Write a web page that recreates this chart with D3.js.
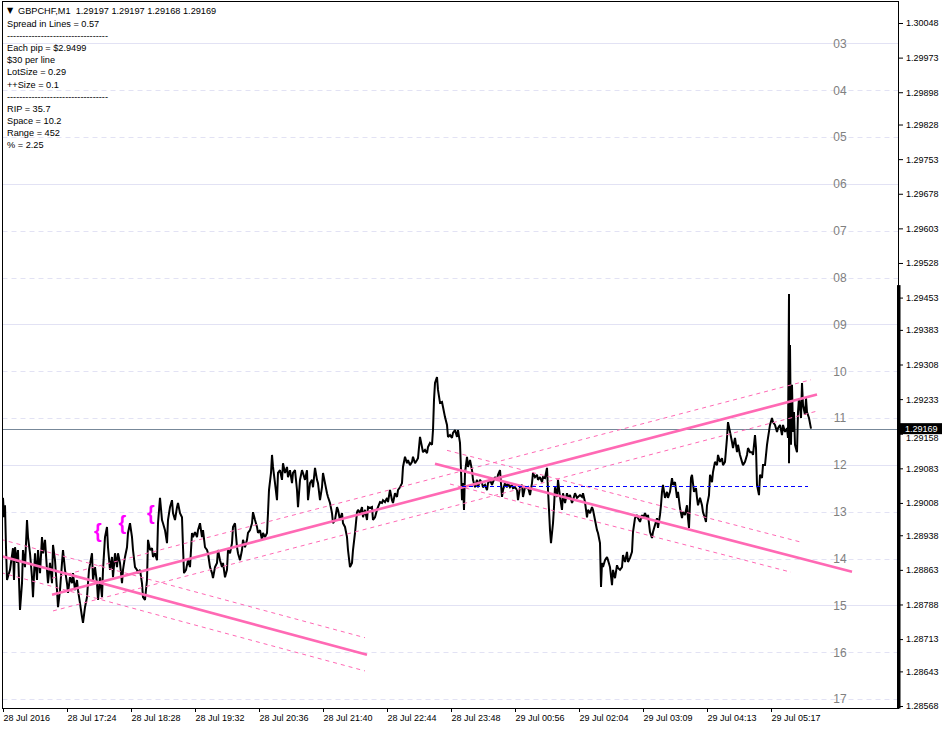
<!DOCTYPE html>
<html><head><meta charset="utf-8">
<script src="https://cdn.jsdelivr.net/npm/d3@7"></script>
<style>
body{margin:0;background:#fff}
svg{display:block}
text{font-family:"Liberation Sans",Arial,sans-serif}
</style>
</head><body>
<svg id="chart" width="942" height="729"></svg>
<script>
// ---------------- DATA ----------------
const symbolHeader = "GBPCHF,M1  1.29197 1.29197 1.29168 1.29169";
const infoLines = [
  "Spread in Lines = 0.57",
  "---------------------------------",
  "Each pip = $2.9499",
  "$30 per line",
  "LotSize = 0.29",
  "++Size = 0.1",
  "---------------------------------",
  "RIP = 35.7",
  "Space = 10.2",
  "Range = 452",
  "% = 2.25"
];
const priceTicks = [1.30048,1.29973,1.29898,1.29828,1.29753,1.29678,1.29603,1.29528,1.29453,1.29383,1.29308,1.29233,1.29158,1.29083,1.29008,1.28938,1.28863,1.28788,1.28713,1.28643,1.28568];
const timeTickBars = [0,64,128,192,256,320,384,448,512,576,640,704,768];
const timeTickLabels = ["28 Jul 2016","28 Jul 17:24","28 Jul 18:28","28 Jul 19:32","28 Jul 20:36","28 Jul 21:40","28 Jul 22:44","28 Jul 23:48","29 Jul 00:56","29 Jul 02:04","29 Jul 03:09","29 Jul 04:13","29 Jul 05:17"];
const levelNames = ["03","04","05","06","07","08","09","10","11","12","13","14","15","16","17"];
const levelPrices = [1.30004,1.29902,1.29801,1.29699,1.29598,1.29496,1.29395,1.29293,1.29192,1.29090,1.28989,1.28887,1.28786,1.28684,1.28583];
const solidLevels = ["03","06","09","12","15"];
const currentPrice = 1.29169;
const scaleMarkTop = 1.29480;
// M1 price trace: [bar index, price]
const pricePath = [
[0,1.29019],[1,1.28977],[2,1.29003],[3,1.28912],[4,1.28841],[7,1.28863],[10,1.28910],[11,1.28841],[12,1.28912],[14,1.28878],[15,1.28906],[17,1.28776],[19,1.28834],[20,1.28906],[22,1.28869],[24,1.28971],[25,1.28934],[27,1.28899],[29,1.28847],[30,1.28804],[32,1.28899],[34,1.28841],[35,1.28906],[37,1.28856],[39,1.28934],[40,1.28899],[42,1.28928],[44,1.28863],[45,1.28834],[47,1.28878],[49,1.28834],[50,1.28917],[52,1.28884],[54,1.28819],[55,1.28782],[57,1.28819],[59,1.28878],[60,1.28906],[62,1.28863],[64,1.28834],[65,1.28813],[67,1.28847],[69,1.28834],[70,1.28856],[72,1.28819],[74,1.28841],[75,1.28819],[77,1.28791],[79,1.28761],[80,1.28748],[82,1.28782],[84,1.28804],[86,1.28863],[89,1.28899],[90,1.28841],[92,1.28869],[94,1.28834],[95,1.28798],[97,1.28847],[99,1.28804],[100,1.28863],[102,1.28934],[104,1.28956],[105,1.28912],[107,1.28863],[109,1.28891],[110,1.28847],[112,1.28899],[114,1.28869],[115,1.28899],[117,1.28878],[119,1.28834],[120,1.28863],[122,1.28891],[124,1.28912],[125,1.28943],[127,1.28964],[129,1.28934],[130,1.28906],[132,1.28869],[134,1.28863],[135,1.28856],[137,1.28863],[139,1.28834],[140,1.28804],[142,1.28798],[144,1.28841],[145,1.28928],[147,1.28906],[149,1.28910],[150,1.28891],[152,1.28899],[154,1.28884],[155,1.28964],[157,1.29019],[159,1.28971],[160,1.28964],[162,1.28949],[164,1.28921],[165,1.28971],[167,1.28999],[169,1.29014],[170,1.28986],[172,1.28971],[174,1.28999],[175,1.29008],[177,1.28986],[179,1.28977],[180,1.28912],[181,1.28856],[183,1.28863],[185,1.28884],[187,1.28869],[189,1.28943],[190,1.28934],[192,1.28945],[194,1.28934],[195,1.28949],[197,1.28964],[199,1.28934],[200,1.28949],[202,1.28912],[204,1.28906],
[205,1.28899],[207,1.28869],[209,1.28856],[210,1.28845],[212,1.28869],[214,1.28878],[215,1.28906],[217,1.28884],[219,1.28869],[220,1.28878],[222,1.28847],[224,1.28863],[225,1.28906],[227,1.28899],[229,1.28921],[230,1.28956],[232,1.28964],[234,1.28912],[235,1.28899],[237,1.28884],[239,1.28906],[240,1.28928],[242,1.28912],[244,1.28928],[245,1.28943],[247,1.28949],[249,1.28964],[250,1.28988],[252,1.28971],[254,1.28956],[255,1.28943],[257,1.28949],[259,1.28928],[260,1.28943],[262,1.28934],[264,1.28943],[265,1.28986],[266,1.29036],[268,1.29073],[269,1.29112],[270,1.29086],[272,1.29051],[274,1.29014],[275,1.29073],[277,1.29079],[279,1.29058],[280,1.29094],[282,1.29073],[284,1.29086],[285,1.29064],[287,1.29079],[289,1.29051],[290,1.29073],[292,1.29079],[294,1.29036],[295,1.28999],[297,1.29058],[299,1.29079],[300,1.29073],[302,1.29058],[304,1.29079],[305,1.29014],[307,1.29051],[309,1.29058],[310,1.29042],[312,1.29084],[314,1.29058],[315,1.29051],[317,1.29014],[319,1.29042],[320,1.29073],[322,1.29051],[324,1.29029],[325,1.29021],[327,1.29008],[329,1.28986],[330,1.28964],[332,1.28971],[334,1.28999],[335,1.28993],[337,1.28971],[339,1.28986],[340,1.28964],[342,1.28956],[344,1.28934],[345,1.28906],[347,1.28869],[349,1.28878],[350,1.28906],[352,1.28943],[354,1.28988],[355,1.28993],[357,1.28986],[359,1.28999],[360,1.28977],[362,1.28993],[364,1.28971],[365,1.28999],[367,1.28997],[369,1.28999],[370,1.28971],[372,1.28977],[374,1.28993],[375,1.28999],[377,1.29010],[379,1.29008],[380,1.29014],[382,1.29010],[384,1.29019],[385,1.29010],[387,1.29036],[389,1.29014],[390,1.29008],[392,1.29029],[394,1.29021],[395,1.29036],[397,1.29042],
[399,1.29051],[400,1.29086],[402,1.29108],[404,1.29094],[405,1.29101],[407,1.29090],[409,1.29097],[410,1.29108],[412,1.29094],[414,1.29101],[415,1.29105],[417,1.29151],[419,1.29129],[420,1.29118],[422,1.29123],[424,1.29116],[425,1.29129],[427,1.29138],[429,1.29134],[430,1.29166],[431,1.29231],[432,1.29268],[434,1.29281],[435,1.29253],[437,1.29225],[439,1.29227],[440,1.29216],[442,1.29194],[444,1.29177],[445,1.29151],[447,1.29155],[449,1.29149],[450,1.29160],[452,1.29166],[454,1.29151],[455,1.29166],[457,1.29138],[458,1.29079],[459,1.29014],[460,1.29051],[461,1.28993],[462,1.29073],[464,1.29108],[465,1.29086],[467,1.29101],[469,1.29079],[470,1.29058],[472,1.29042],[474,1.29058],[475,1.29042],[477,1.29058],[479,1.29051],[480,1.29042],[482,1.29047],[484,1.29036],[485,1.29051],[487,1.29058],[489,1.29047],[490,1.29053],[492,1.29064],[494,1.29058],[495,1.29069],[497,1.29079],[499,1.29021],[500,1.29036],[502,1.29051],[504,1.29042],[505,1.29051],[507,1.29042],[509,1.29047],[510,1.29040],[512,1.29042],[514,1.29036],[515,1.29014],[517,1.29042],[519,1.29047],[520,1.29021],[522,1.29042],[524,1.29040],[525,1.29042],[527,1.29025],[529,1.29051],[530,1.29073],[532,1.29064],[534,1.29069],[535,1.29058],[537,1.29064],[539,1.29053],[540,1.29064],[542,1.29062],[544,1.29084],[545,1.29036],[546,1.28993],[547,1.28949],[548,1.28921],[550,1.28964],[551,1.28999],[552,1.29042],[554,1.29021],[555,1.29058],[557,1.29021],[559,1.28993],[560,1.29029],[562,1.29008],[564,1.29029],[565,1.29019],[567,1.29025],[569,1.29008],[570,1.29014],[572,1.29029],[574,1.29019],[575,1.29021],[577,1.29025],[579,1.29021],[580,1.29029],[582,1.29010],[584,1.28977],[585,1.28993],[587,1.28986],[589,1.28999],[590,1.28993],[592,1.28971],[594,1.28949],[595,1.28943],[597,1.28921],
[598,1.28826],[599,1.28878],[600,1.28869],[602,1.28884],[604,1.28891],[605,1.28884],[607,1.28869],[609,1.28830],[610,1.28863],[612,1.28845],[614,1.28873],[615,1.28867],[617,1.28863],[619,1.28869],[620,1.28895],[622,1.28880],[624,1.28902],[625,1.28880],[627,1.28889],[629,1.28902],[630,1.28945],[632,1.28975],[634,1.28982],[635,1.28975],[637,1.28967],[639,1.28982],[640,1.28975],[642,1.28986],[644,1.28975],[645,1.28982],[647,1.28945],[649,1.28932],[650,1.28945],[652,1.28960],[654,1.28975],[655,1.28954],[657,1.28982],[658,1.29003],[659,1.29032],[660,1.29047],[662,1.29019],[664,1.29032],[665,1.29019],[667,1.29032],[669,1.29062],[670,1.29047],[672,1.29053],[674,1.29019],[675,1.29032],[677,1.28997],[679,1.28975],[680,1.28988],[682,1.28982],[684,1.29003],[685,1.28975],[686,1.28954],[688,1.29062],[689,1.29069],[691,1.29032],[693,1.29040],[694,1.29019],[695,1.29003],[697,1.29019],[699,1.29003],[700,1.28988],[702,1.28975],[703,1.28967],[704,1.29003],[706,1.29025],[707,1.29069],[709,1.29053],[710,1.29075],[712,1.29097],[714,1.29090],[715,1.29112],[717,1.29097],[719,1.29105],[720,1.29090],[722,1.29097],[724,1.29149],[725,1.29183],[727,1.29162],[729,1.29140],[730,1.29127],[732,1.29149],[734,1.29118],[735,1.29134],[737,1.29112],[739,1.29097],[740,1.29090],[742,1.29097],[744,1.29112],[745,1.29127],[747,1.29118],[749,1.29118],[750,1.29112],[752,1.29155],[753,1.29127],[754,1.29047],[756,1.29025],[757,1.29069],[759,1.29062],[760,1.29090],[762,1.29090],[764,1.29134],[765,1.29149],[767,1.29177],[769,1.29192],[770,1.29183],[772,1.29177],[774,1.29162],[775,1.29170],[777,1.29177],[779,1.29155],[780,1.29177],[782,1.29162],[784,1.29170],[785,1.29149],[786,1.29461],[786,1.29094],[787,1.29350],[788,1.29134],[789,1.29264],[790,1.29162],[791,1.29205],[792,1.29134],[794,1.29118],[795,1.29205],[796,1.29235],[798,1.29192],[799,1.29268],[800,1.29220],[802,1.29199],[803,1.29235],[804,1.29205],[806,1.29192],[808,1.29169]
];
// trend lines: [bar1, price1, bar2, price2]
const solidTrendLines = [
  [49, 1.28809, 814, 1.29243],
  [-2, 1.28893, 364, 1.28679],
  [432, 1.29093, 849, 1.28859]
];
const dashedChannelLines = [
  [49, 1.28845, 808, 1.29275],
  [50, 1.28774, 814, 1.29207],
  [-2, 1.28929, 362, 1.28716],
  [-2, 1.28857, 362, 1.28644],
  [444, 1.29122, 800, 1.28922],
  [447, 1.29049, 788, 1.28858]
];
const blueLevel = [459, 805, 1.29044];
const braceMarks = [[95, 1.28947], [119.5, 1.28964], [148, 1.28986]];

// ---------------- DRAW ----------------
const svg = d3.select("#chart");
const L = 2.5, R = 898.5, T = 1.5, B = 708.5;
const x = d3.scaleLinear().domain([0, 895]).range([3, 898]);
const y = d3.scaleLinear().domain([1.28568, 1.30048]).range([706, 23]);

svg.append("rect").attr("width", 942).attr("height", 729).attr("fill", "#fff");
svg.append("defs").append("clipPath").attr("id", "plotclip")
  .append("rect").attr("x", L).attr("y", T).attr("width", R - L).attr("height", B - T);

const plot = svg.append("g").attr("clip-path", "url(#plotclip)");

// level grid lines
plot.selectAll("line.level").data(levelPrices).join("line")
  .attr("x1", L).attr("x2", R)
  .attr("y1", d => Math.round(y(d)) + 0.5).attr("y2", d => Math.round(y(d)) + 0.5)
  .attr("stroke", "#e2e2f4").attr("stroke-width", 1)
  .attr("stroke-dasharray", (d, i) => solidLevels.includes(levelNames[i]) ? null : "5,4");

// current price line
plot.append("line").attr("x1", L).attr("x2", R)
  .attr("y1", Math.round(y(currentPrice)) + 0.5).attr("y2", Math.round(y(currentPrice)) + 0.5)
  .attr("stroke", "#778899").attr("stroke-width", 1);

// level labels
svg.selectAll("text.lvl").data(levelPrices).join("text")
  .attr("x", 840).attr("y", d => y(d)).attr("dy", "0.36em")
  .attr("text-anchor", "middle").attr("font-size", 12).attr("fill", "#808080")
  .text((d, i) => levelNames[i]);

// price series
const line = d3.line().x(d => x(d[0])).y(d => y(d[1]));
plot.append("path").datum(pricePath).attr("d", line)
  .attr("fill", "none").attr("stroke", "#000").attr("stroke-width", 2)
  .attr("stroke-linejoin", "miter").attr("stroke-miterlimit", 2);

// channel lines
const pink = "#ff69b4";
plot.selectAll("line.chan").data(dashedChannelLines).join("line")
  .attr("x1", d => x(d[0])).attr("y1", d => y(d[1]))
  .attr("x2", d => x(d[2])).attr("y2", d => y(d[3]))
  .attr("stroke", pink).attr("stroke-width", 1).attr("stroke-dasharray", "4,4");
plot.selectAll("line.trend").data(solidTrendLines).join("line")
  .attr("x1", d => x(d[0])).attr("y1", d => y(d[1]))
  .attr("x2", d => x(d[2])).attr("y2", d => y(d[3]))
  .attr("stroke", pink).attr("stroke-width", 2.6);

// blue dashed level
plot.append("line")
  .attr("x1", x(blueLevel[0])).attr("x2", x(blueLevel[1]))
  .attr("y1", Math.round(y(blueLevel[2])) + 0.5).attr("y2", Math.round(y(blueLevel[2])) + 0.5)
  .attr("stroke", "#0000ff").attr("stroke-width", 1).attr("stroke-dasharray", "4,3");

// braces
svg.selectAll("text.brace").data(braceMarks).join("text")
  .attr("x", d => x(d[0])).attr("y", d => y(d[1])).attr("dy", "0.35em")
  .attr("text-anchor", "middle").attr("font-size", 20).attr("font-weight", "bold")
  .attr("fill", "#ff00ff").text("{");

// frame
svg.append("rect").attr("x", L).attr("y", T).attr("width", R - L).attr("height", B - T)
  .attr("fill", "none").attr("stroke", "#000").attr("stroke-width", 1);
svg.append("rect").attr("x", 897).attr("y", y(scaleMarkTop)).attr("width", 3.5)
  .attr("height", B - y(scaleMarkTop)).attr("fill", "#000");

// right axis
const ra = svg.append("g").attr("transform", "translate(899,0)")
  .call(d3.axisRight(y).tickValues(priceTicks).tickSize(4).tickPadding(3).tickFormat(d => d.toFixed(5)));
ra.select(".domain").remove();
ra.selectAll("text").attr("font-size", 9).attr("fill", "#000").style("font-family", "'Liberation Sans',Arial,sans-serif");
ra.selectAll("line").attr("stroke", "#000");
// the tick hidden behind the current-price box only shows its lower part
ra.selectAll(".tick").filter(d => d === 1.29158).select("text").attr("dy", "0.75em");

// current price label
svg.append("rect").attr("x", 900).attr("y", y(currentPrice) - 5.5).attr("width", 42).attr("height", 11).attr("fill", "#000");
svg.append("text").attr("x", 905).attr("y", y(currentPrice)).attr("dy", "0.34em")
  .attr("font-size", 9).attr("fill", "#fff").text(currentPrice.toFixed(5));

// bottom axis
const ba = svg.append("g").attr("transform", `translate(0,${B - 0.5})`)
  .call(d3.axisBottom(x).tickValues(timeTickBars).tickSize(4).tickPadding(3).tickFormat((d, i) => timeTickLabels[i]));
ba.select(".domain").remove();
ba.selectAll("text").attr("text-anchor", "start").attr("x", 0).attr("font-size", 9).attr("fill", "#000")
  .style("font-family", "'Liberation Sans',Arial,sans-serif");
ba.selectAll("line").attr("stroke", "#000");

// header & info text
svg.append("text").attr("x", 7).attr("y", 13).attr("font-size", 8)
  .style("font-family", "'DejaVu Sans',sans-serif").text("▼");
svg.append("text").attr("x", 18).attr("y", 14).attr("font-size", 9.2)
  .style("white-space", "pre").text(symbolHeader);
svg.selectAll("text.info").data(infoLines).join("text")
  .attr("x", 7).attr("y", (d, i) => 27 + i * 12.1).attr("font-size", 9.2)
  .text(d => d);
</script>
</body></html>
